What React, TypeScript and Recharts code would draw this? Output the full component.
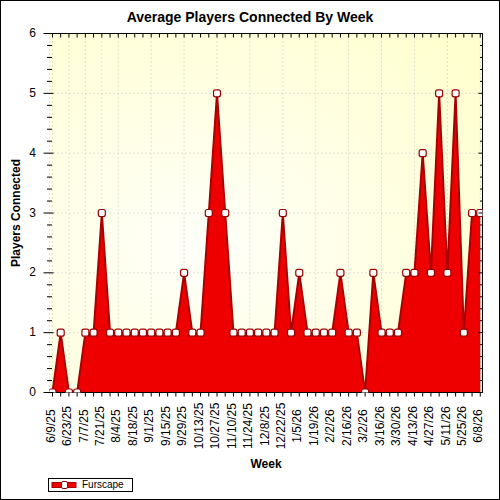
import { AreaChart, Area, XAxis, YAxis, CartesianGrid } from "recharts";

// week starting dates, one point per week
const weeks = [
  "6/9/25", "6/16/25", "6/23/25", "6/30/25", "7/7/25", "7/14/25", "7/21/25", "7/28/25",
  "8/4/25", "8/11/25", "8/18/25", "8/25/25", "9/1/25", "9/8/25", "9/15/25", "9/22/25",
  "9/29/25", "10/6/25", "10/13/25", "10/20/25", "10/27/25", "11/3/25", "11/10/25", "11/17/25",
  "11/24/25", "12/1/25", "12/8/25", "12/15/25", "12/22/25", "12/29/25", "1/5/26", "1/12/26",
  "1/19/26", "1/26/26", "2/2/26", "2/9/26", "2/16/26", "2/23/26", "3/2/26", "3/9/26",
  "3/16/26", "3/23/26", "3/30/26", "4/6/26", "4/13/26", "4/20/26", "4/27/26", "5/4/26",
  "5/11/26", "5/18/26", "5/25/26", "6/1/26", "6/8/26",
];

const furscape = [
  0, 1, 0, 0, 1, 1, 3, 1, 1, 1, 1, 1, 1, 1, 1, 1, 2, 1, 1, 3, 5, 3, 1, 1, 1, 1, 1,
  1, 3, 1, 2, 1, 1, 1, 1, 2, 1, 1, 0, 2, 1, 1, 1, 2, 2, 4, 2, 5, 2, 5, 1, 3, 3,
];

const yLabels = [0, 1, 2, 3, 4, 5, 6];
const yMinor = Array.from({ length: 31 }, (_, k) => k / 5);
const weekIdx = weeks.map((_, i) => i);
const gridIdx = weekIdx.filter((i) => i % 2 === 0);

const data = weeks.map((week, i) => ({ i, week, players: furscape[i] }));

// plot box edges
const LEFT = 49.5;
const RIGHT = 482.5;
const TOP = 33.5;
const BOTTOM = 392.5;
const X_DOMAIN: [number, number] = [-0.36, 52.27];

const font = "'Liberation Sans', Arial, sans-serif";

const isMajor = (v: number) => Math.abs(v - Math.round(v)) < 1e-6;

const BottomTick = (props: any) => {
  const { x, payload } = props;
  const i = payload.value;
  const lx = x - 2;
  return (
    <g>
      <line x1={x} x2={x} y1={BOTTOM} y2={BOTTOM + 4} stroke="#000" />
      {i % 2 === 0 && (
        <text
          x={lx}
          y={426}
          transform={`rotate(-90 ${lx} 426)`}
          textAnchor="middle"
          dy="0.35em"
          fontSize={12}
          fontFamily={font}
          fill="#000"
        >
          {weeks[i]}
        </text>
      )}
    </g>
  );
};

const TopTick = (props: any) => {
  const { x } = props;
  return <line x1={x} x2={x} y1={TOP} y2={TOP + 4} stroke="#000" />;
};

const LeftTick = (props: any) => {
  const { y, payload } = props;
  const major = isMajor(payload.value);
  return (
    <g>
      <line
        x1={major ? LEFT - 6 : LEFT - 2.5}
        x2={major ? LEFT + 4 : LEFT + 2.5}
        y1={y}
        y2={y}
        stroke="#000"
      />
      {major && (
        <text x={36} y={y} dy="0.3em" textAnchor="end" fontSize={12} fontFamily={font} fill="#000">
          {Math.round(payload.value)}
        </text>
      )}
    </g>
  );
};

const RightTick = (props: any) => {
  const { y, payload } = props;
  const major = isMajor(payload.value);
  return <line x1={RIGHT - (major ? 4 : 2.5)} x2={RIGHT} y1={y} y2={y} stroke="#000" />;
};

const SquareDot = (props: any) => {
  const { cx, cy, index } = props;
  if (cx == null || cy == null) return <g key={index} />;
  return (
    <rect
      key={index}
      x={cx - 3.5}
      y={cy - 3.5}
      width={7}
      height={7}
      rx={2}
      fill="#fff"
      stroke="#990000"
      strokeWidth={1.2}
    />
  );
};

export default function App() {
  return (
    <div style={{ position: "relative", width: 500, height: 500, fontFamily: font, background: "#fff" }}>
      <style>{`body{margin:0}`}</style>
      <div style={{ position: "absolute", left: 0, top: 0 }}>
        <AreaChart
          width={500}
          height={500}
          data={data}
          margin={{ top: 32.5, right: 16.5, bottom: 0.5, left: 0.5 }}
        >
          <defs>
            <radialGradient id="plotBg" cx="35%" cy="60%" r="80%">
              <stop offset="0%" stopColor="#fffffa" />
              <stop offset="100%" stopColor="#ffffd0" />
            </radialGradient>
          </defs>
          <XAxis
            xAxisId="g"
            type="number"
            dataKey="i"
            domain={X_DOMAIN}
            ticks={gridIdx}
            allowDataOverflow
            hide
          />
          <YAxis yAxisId="g" type="number" domain={[0, 6]} ticks={yLabels} allowDataOverflow hide />
          <CartesianGrid
            xAxisId="g"
            yAxisId="g"
            stroke="#c4c4c4"
            strokeDasharray="1 3"
            fill="url(#plotBg)"
            fillOpacity={1}
          />
          <XAxis
            xAxisId="b"
            type="number"
            dataKey="i"
            domain={X_DOMAIN}
            ticks={weekIdx}
            interval={0}
            allowDataOverflow
            height={107}
            tickLine={false}
            axisLine={{ stroke: "#000" }}
            tick={BottomTick}
          />
          <XAxis
            xAxisId="t"
            orientation="top"
            type="number"
            dataKey="i"
            domain={X_DOMAIN}
            ticks={weekIdx}
            interval={0}
            allowDataOverflow
            height={1}
            tickLine={false}
            axisLine={{ stroke: "#000" }}
            tick={TopTick}
          />
          <YAxis
            yAxisId="l"
            type="number"
            domain={[0, 6]}
            ticks={yMinor}
            interval={0}
            allowDataOverflow
            width={49}
            tickLine={false}
            axisLine={{ stroke: "#000" }}
            tick={LeftTick}
          />
          <YAxis
            yAxisId="r"
            orientation="right"
            type="number"
            domain={[0, 6]}
            ticks={yMinor}
            interval={0}
            allowDataOverflow
            width={1}
            tickLine={false}
            axisLine={{ stroke: "#000" }}
            tick={RightTick}
          />
          <Area
            xAxisId="b"
            yAxisId="l"
            type="linear"
            dataKey="players"
            name="Furscape"
            stroke="#aa0000"
            strokeWidth={2}
            fill="#ee0000"
            fillOpacity={1}
            dot={SquareDot}
            activeDot={false}
            isAnimationActive={false}
          />
        </AreaChart>
      </div>

      <div
        style={{
          position: "absolute",
          left: 0,
          top: 9,
          width: 500,
          textAlign: "center",
          fontWeight: "bold",
          fontSize: 14,
          lineHeight: "16px",
          color: "#000",
        }}
      >
        Average Players Connected By Week
      </div>

      <div
        style={{
          position: "absolute",
          left: 16,
          top: 213,
          transform: "translate(-50%, -50%) rotate(-90deg)",
          whiteSpace: "nowrap",
          fontWeight: "bold",
          fontSize: 12,
          lineHeight: "14px",
          color: "#000",
        }}
      >
        Players Connected
      </div>

      <div
        style={{
          position: "absolute",
          left: 266,
          top: 456.5,
          transform: "translateX(-50%)",
          fontWeight: "bold",
          fontSize: 12,
          lineHeight: "14px",
          color: "#000",
        }}
      >
        Week
      </div>

      <div
        style={{
          position: "absolute",
          left: 48,
          top: 478,
          width: 85,
          height: 14,
          boxSizing: "border-box",
          border: "1px solid #000",
          background: "#fff",
        }}
      >
        <svg width={26} height={10} style={{ position: "absolute", left: 2, top: 1 }}>
          <rect x={1} y={2.5} width={24} height={5} fill="#ee0000" stroke="#aa0000" strokeWidth={1} />
          <rect x={10.5} y={1.5} width={6} height={7} rx={1.5} fill="#fff" stroke="#990000" strokeWidth={1} />
        </svg>
        <span
          style={{
            position: "absolute",
            left: 33,
            top: 0,
            fontSize: 10,
            lineHeight: "12px",
            color: "#000",
          }}
        >
          Furscape
        </span>
      </div>

      <div
        style={{
          position: "absolute",
          inset: 0,
          border: "1px solid #000",
          pointerEvents: "none",
        }}
      />
    </div>
  );
}
